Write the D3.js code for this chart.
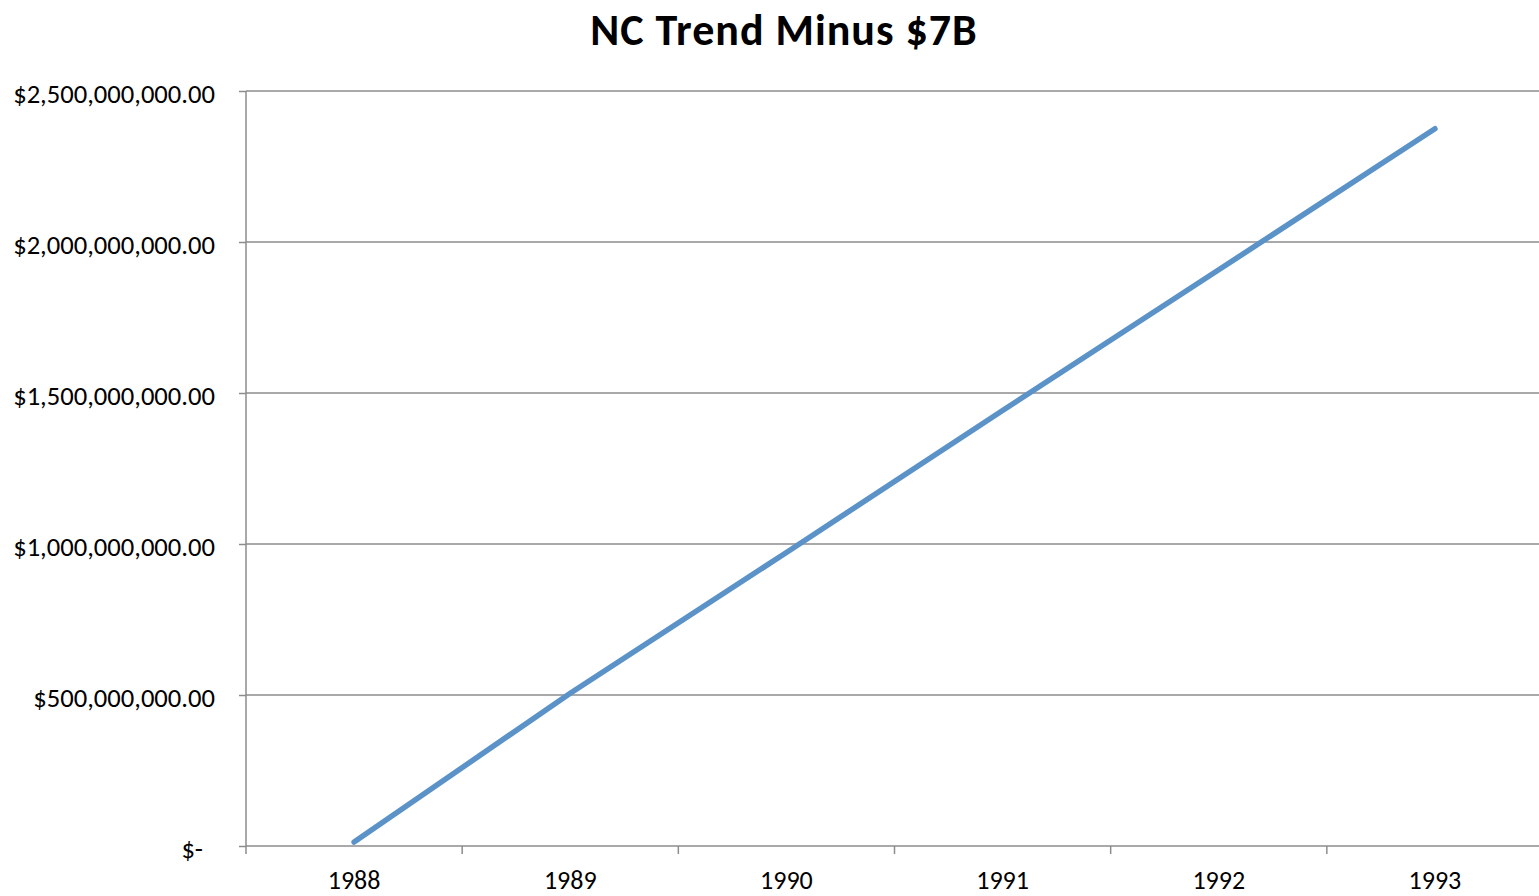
<!DOCTYPE html>
<html>
<head>
<meta charset="utf-8">
<script src="https://cdn.jsdelivr.net/npm/d3@7"></script>
<style>
    body { margin: 0; background: #fff; }
    svg { display: block; }
    text { font-family: Carlito, Calibri, Lato, "Open Sans", sans-serif; fill: #000; }
</style>
</head>
<body>
<div id="chartDiv"></div>
<script>
'use strict';

const years = ['1988', '1989', '1990', '1991', '1992', '1993'];
const trendValues = [13e6, 506e6, 972e6, 1442e6, 1908e6, 2375e6];
const yTickValues = [0, 5e8, 1e9, 1.5e9, 2e9, 2.5e9];
const yTickLabels = ['$-', '$500,000,000.00', '$1,000,000,000.00', '$1,500,000,000.00', '$2,000,000,000.00', '$2,500,000,000.00'];
const chartTitle = 'NC Trend Minus $7B';

const width = 1539;
const height = 896;
const plotLeft = 246;
const plotRight = 1543;
const plotTop = 91;
const plotBottom = 846;
const gridColor = '#8c8c8c';

function main() {
    let svg = d3.select('#chartDiv')
        .append('svg')
        .attr('width', width)
        .attr('height', height);

    let x = d3.scaleBand()
        .domain(years)
        .range([plotLeft, plotRight]);

    let y = d3.scaleLinear()
        .domain([0, 2.5e9])
        .range([plotBottom, plotTop]);

    // Horizontal gridlines
    svg.append('g')
        .selectAll('line')
        .data(yTickValues.slice(1))
        .enter()
        .append('line')
        .attr('x1', plotLeft)
        .attr('x2', width)
        .attr('y1', d => y(d))
        .attr('y2', d => y(d))
        .attr('stroke', gridColor)
        .attr('stroke-width', 1.5);

    // Y axis
    let yAxis = d3.axisLeft(y)
        .tickValues(yTickValues)
        .tickSize(7)
        .tickPadding(24)
        .tickFormat((d, i) => yTickLabels[i]);

    let yAxisG = svg.append('g')
        .attr('transform', `translate(${plotLeft}, 0)`)
        .call(yAxis);
    yAxisG.select('.domain').remove();
    yAxisG.append('line')
        .attr('y1', plotTop)
        .attr('y2', plotBottom)
        .attr('stroke', gridColor)
        .attr('stroke-width', 1.5);
    yAxisG.selectAll('.tick line')
        .attr('stroke', gridColor)
        .attr('stroke-width', 1.5);
    yAxisG.selectAll('.tick text')
        .attr('font-size', 26.6)
        .attr('font-family', null)
        .attr('dx', (d, i) => i === 0 ? -12 : 0)
        .attr('dy', '0.42em');

    // X axis: ticks sit on category boundaries
    let xAxisG = svg.append('g');
    xAxisG.append('line')
        .attr('x1', plotLeft)
        .attr('x2', width)
        .attr('y1', plotBottom)
        .attr('y2', plotBottom)
        .attr('stroke', gridColor)
        .attr('stroke-width', 1.5);
    xAxisG.selectAll('.xtick')
        .data(years.concat(['end']))
        .enter()
        .append('line')
        .attr('x1', (d, i) => plotLeft + i * x.step())
        .attr('x2', (d, i) => plotLeft + i * x.step())
        .attr('y1', plotBottom)
        .attr('y2', plotBottom + 8)
        .attr('stroke', gridColor)
        .attr('stroke-width', 1.5);
    xAxisG.selectAll('.xlabel')
        .data(years)
        .enter()
        .append('text')
        .attr('x', d => x(d) + x.bandwidth() / 2)
        .attr('y', 889)
        .attr('text-anchor', 'middle')
        .attr('font-size', 26)
        .text(d => d);

    // Trend line
    let line = d3.line()
        .x((d, i) => x(years[i]) + x.bandwidth() / 2)
        .y(d => y(d));

    svg.append('path')
        .datum(trendValues)
        .attr('d', line)
        .attr('fill', 'none')
        .attr('stroke', '#5b93c9')
        .attr('stroke-width', 5.5)
        .attr('stroke-linecap', 'round')
        .attr('stroke-linejoin', 'round');

    // Title
    svg.append('text')
        .attr('x', 784)
        .attr('y', 45)
        .attr('text-anchor', 'middle')
        .attr('font-size', 44)
        .attr('font-weight', 'bold')
        .attr('letter-spacing', 1)
        .text(chartTitle);
}
main();
</script>
</body>
</html>
